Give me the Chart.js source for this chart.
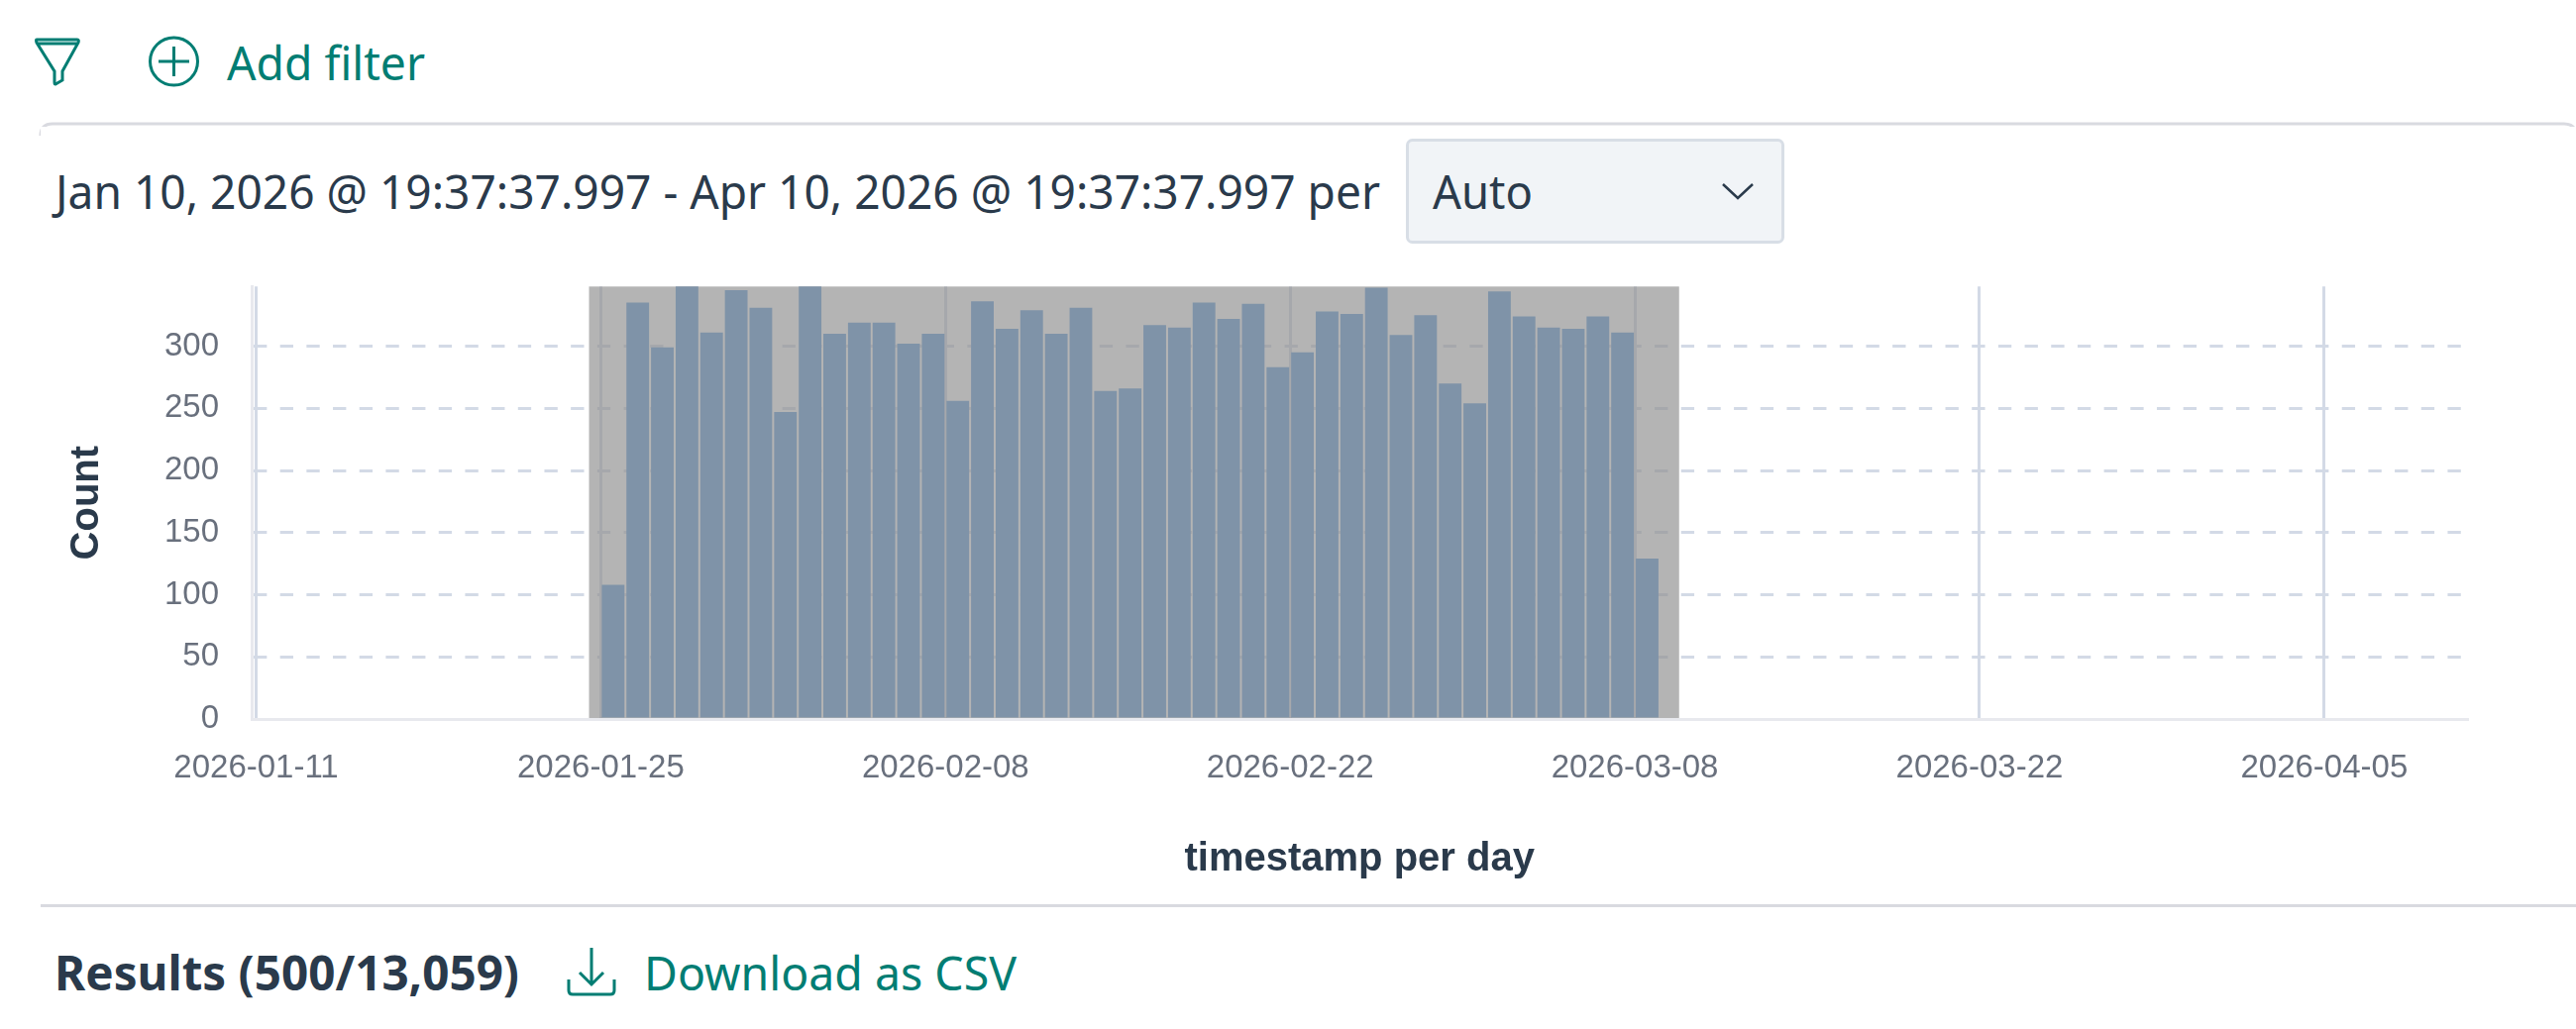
<!DOCTYPE html>
<html>
<head>
<meta charset="utf-8">
<title>Histogram</title>
<script src="https://cdn.jsdelivr.net/npm/chart.js@4/dist/chart.umd.min.js"></script>
<style>
html, body { margin: 0; padding: 0; background: #fff; }
body { position: relative; width: 2600px; height: 1039px; overflow: hidden; }
#myChart { position: absolute; left: 0; top: 0; }
#page { position: absolute; left: 0; top: 0; }
#page text { font-family: "Noto Sans", sans-serif; }
</style>
</head>
<body>
<svg id="page" width="2600" height="1039" viewBox="0 0 2600 1039">
  <path d="M37 40 H78 Q80 40 79 43 L63 72 V81 L56 85 Q55 85 55 83 V72 L37 43 Q36 40 37 40 Z M37 44 H79" fill="none" stroke="#017d73" stroke-width="3"/>
  <circle cx="175.5" cy="62" r="24" fill="none" stroke="#017d73" stroke-width="3"/>
  <path d="M160 62 H191 M175.5 47 V77" stroke="#017d73" stroke-width="3"/>
  <text x="229" y="81" font-size="48" fill="#017d73" textLength="200" lengthAdjust="spacingAndGlyphs">Add filter</text>

  <path d="M41 136 V137 Q41 125 53 125 H2588 Q2600 125 2600 137" fill="none" stroke="#d9dae0" stroke-width="3"/>
  <rect x="41" y="128" width="2559" height="785" fill="#fff"/>
  <text x="56" y="211" font-size="48" fill="#2a3a4b" textLength="1337" lengthAdjust="spacingAndGlyphs">Jan 10, 2026 @ 19:37:37.997 - Apr 10, 2026 @ 19:37:37.997 per</text>
  <rect x="1420.5" y="141.5" width="379" height="103" rx="5" fill="#f1f4f7" stroke="#d8dee6" stroke-width="3"/>
  <text x="1446" y="211" font-size="48" fill="#2a3a4b" textLength="101" lengthAdjust="spacingAndGlyphs">Auto</text>
  <path d="M1739 186 L1754 200 L1769 186" fill="none" stroke="#2a3a4b" stroke-width="2.5"/>

  <rect x="41" y="913" width="2559" height="3" fill="#d9dae0"/>
  <text x="55" y="1000" font-size="48" font-weight="700" fill="#2a3a4b" textLength="469" lengthAdjust="spacingAndGlyphs">Results (500/13,059)</text>
  <path d="M597 957 V994 M585 982 L597 994 L609 982 M574 989 V1000 Q574 1004 578 1004 H616 Q620 1004 620 1000 V989" fill="none" stroke="#017d73" stroke-width="3"/>
  <text x="650" y="1000" font-size="48" fill="#017d73" textLength="376" lengthAdjust="spacingAndGlyphs">Download as CSV</text>
</svg>
<canvas id="myChart" width="2600" height="1039"></canvas>
<script>
"use strict";
const dayLabels = [
    '2026-01-25', '2026-01-26', '2026-01-27', '2026-01-28', '2026-01-29', '2026-01-30', '2026-01-31',
    '2026-02-01', '2026-02-02', '2026-02-03', '2026-02-04', '2026-02-05', '2026-02-06', '2026-02-07',
    '2026-02-08', '2026-02-09', '2026-02-10', '2026-02-11', '2026-02-12', '2026-02-13', '2026-02-14',
    '2026-02-15', '2026-02-16', '2026-02-17', '2026-02-18', '2026-02-19', '2026-02-20', '2026-02-21',
    '2026-02-22', '2026-02-23', '2026-02-24', '2026-02-25', '2026-02-26', '2026-02-27', '2026-02-28',
    '2026-03-01', '2026-03-02', '2026-03-03', '2026-03-04', '2026-03-05', '2026-03-06', '2026-03-07',
    '2026-03-08'
];
const counts = [
    108, 335, 299, 352, 311, 345, 331,
    247, 355, 310, 319, 319, 302, 310,
    256, 336, 314, 329, 310, 331, 264,
    266, 317, 315, 335, 322, 334, 283,
    295, 328, 326, 347, 309, 325, 270,
    254, 344, 324, 315, 314, 324, 311,
    129
];
const xTickLabels = ['2026-01-11', '2026-01-25', '2026-02-08', '2026-02-22', '2026-03-08', '2026-03-22', '2026-04-05'];
const yTickLabels = [0, 50, 100, 150, 200, 250, 300];
const xRange = ['2026-01-10T19:37:37.997Z', '2026-04-10T19:37:37.997Z'];
const selectionRange = ['2026-01-24T12:30:00Z', '2026-03-09T19:10:00Z'];
const yMax = 348;

const dayOf = (s) => (Date.parse(s) - Date.parse('2026-01-11T00:00:00Z')) / 86400000;

const selectionPlugin = {
    id: 'selection',
    beforeDatasetsDraw(chart) {
        const { ctx, chartArea, scales } = chart;
        const x0 = scales.x.getPixelForValue(dayOf(selectionRange[0]));
        const x1 = scales.x.getPixelForValue(dayOf(selectionRange[1]));
        ctx.save();
        ctx.fillStyle = 'rgba(144, 145, 144, 0.68)';
        ctx.fillRect(x0, chartArea.top, x1 - x0, chartArea.bottom - chartArea.top);
        ctx.restore();
    }
};

const gridColor = '#d3dae6';
const canvas = document.getElementById('myChart');
new Chart(canvas.getContext('2d'), {
    type: 'bar',
    plugins: [selectionPlugin],
    data: {
        datasets: [{
            label: 'Count',
            data: dayLabels.map((d, i) => ({ x: dayOf(d) + 0.5, y: counts[i] })),
            backgroundColor: '#7f93a8',
            barPercentage: 0.92,
            categoryPercentage: 1
        }]
    },
    options: {
        responsive: false,
        animation: false,
        devicePixelRatio: 1,
        layout: { padding: { left: 0, top: 289.3, right: 109.6, bottom: 0 } },
        plugins: { legend: { display: false }, tooltip: { enabled: false } },
        scales: {
            x: {
                type: 'linear',
                offset: false,
                min: dayOf(xRange[0]),
                max: dayOf(xRange[1]),
                afterFit: (scale) => { scale.height = 313; },
                afterBuildTicks: (scale) => { scale.ticks = xTickLabels.map((l) => ({ value: dayOf(l) })); },
                grid: { offset: false, color: gridColor, lineWidth: 3, drawTicks: false },
                border: { display: true, color: '#e8e9ee', width: 3, z: 2 },
                ticks: {
                    autoSkip: false,
                    maxRotation: 0,
                    padding: 30,
                    color: '#69707d',
                    font: { family: '"Liberation Sans"', size: 33 },
                    callback: (value, index) => xTickLabels[index]
                },
                title: {
                    display: true,
                    text: 'timestamp per day',
                    color: '#2a3a4b',
                    font: { family: '"Liberation Sans"', size: 40, weight: 'bold' },
                    padding: { top: 0, bottom: 147 }
                }
            },
            y: {
                min: 0,
                max: yMax,
                afterFit: (scale) => { scale.width = 254; },
                afterBuildTicks: (scale) => { scale.ticks = yTickLabels.map((v) => ({ value: v })); },
                grid: {
                    color: (c) => (c.tick && c.tick.value === 0 ? 'transparent' : gridColor),
                    lineWidth: 3,
                    drawTicks: false
                },
                border: { display: true, color: '#e8e9ee', width: 3, dash: [13.34, 13.34] },
                ticks: {
                    padding: 33,
                    color: '#69707d',
                    font: { family: '"Liberation Sans"', size: 33 }
                },
                title: {
                    display: true,
                    text: 'Count',
                    color: '#2a3a4b',
                    font: { family: '"Liberation Sans"', size: 40, weight: 'bold' },
                    padding: { top: 64, bottom: 0 }
                }
            }
        }
    }
});
</script>
</body>
</html>
